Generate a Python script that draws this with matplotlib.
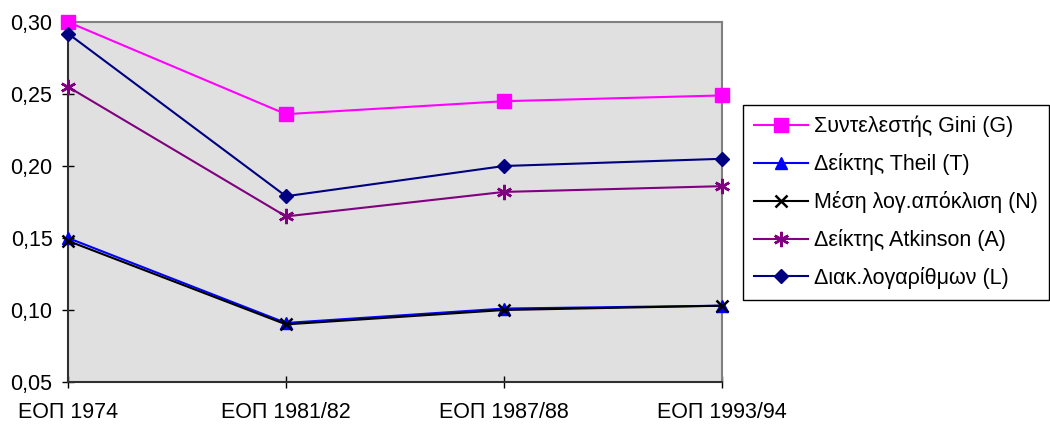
import matplotlib.pyplot as plt

plt.rcParams['font.family'] = ['Liberation Sans', 'DejaVu Sans']

surveys = ["ΕΟΠ 1974", "ΕΟΠ 1981/82", "ΕΟΠ 1987/88", "ΕΟΠ 1993/94"]
gini = [0.300, 0.236, 0.245, 0.249]
theil = [0.150, 0.091, 0.101, 0.103]
mean_log_dev = [0.148, 0.090, 0.100, 0.103]
atkinson = [0.255, 0.165, 0.182, 0.186]
log_var = [0.292, 0.179, 0.200, 0.205]

series = [
    ("Συντελεστής Gini (G)", gini, "#FF00FF", "s", 10),
    ("Δείκτης Theil (T)", theil, "#0000FF", "^", 9),
    ("Μέση λογ.απόκλιση (N)", mean_log_dev, "#000000", "x", 9),
    ("Δείκτης Atkinson (A)", atkinson, "#800080", (6, 2, 0), 11),
    ("Διακ.λογαρίθμων (L)", log_var, "#000080", "D", 7),
]

fig = plt.figure(figsize=(10.5, 4.25), dpi=100)
ax = fig.add_axes([68 / 1050, 1 - 382 / 425, (722 - 68) / 1050, (382 - 22) / 425])
ax.set_facecolor("#E0E0E0")

x = list(range(len(surveys)))
for label, vals, color, marker, ms in series:
    thick = marker == "x" or isinstance(marker, tuple)
    ax.plot(x, vals, color=color, lw=1.5, marker=marker, ms=ms,
            mew=1.8 if thick else 1, label=label, clip_on=False, zorder=3)

ax.set_xlim(0, 3)
ax.set_ylim(0.05, 0.30)
ax.set_xticks(x)
ax.set_xticklabels(surveys)
ax.set_yticks([0.05, 0.10, 0.15, 0.20, 0.25, 0.30])
ax.set_yticklabels(["0,05", "0,10", "0,15", "0,20", "0,25", "0,30"])
ax.tick_params(direction="inout", length=8.5, width=1, labelsize=15.5)
ax.tick_params(axis="x", pad=10)
ax.tick_params(axis="y", pad=7)

for side in ["top", "right"]:
    ax.spines[side].set_color("#808080")
    ax.spines[side].set_linewidth(1.5)
for side in ["left", "bottom"]:
    ax.spines[side].set_color("#303030")
    ax.spines[side].set_linewidth(1.5)

leg = ax.legend(loc="upper left", bbox_to_anchor=(743 / 1050, 1 - 105 / 425),
                bbox_transform=fig.transFigure, fontsize=15.5, frameon=True,
                fancybox=False, framealpha=1, edgecolor="black",
                handlelength=2.5, handletextpad=0.3, labelspacing=0.74,
                borderpad=0.5, borderaxespad=0)
leg.get_frame().set_linewidth(1)

fig.savefig("out.png", dpi=100)
